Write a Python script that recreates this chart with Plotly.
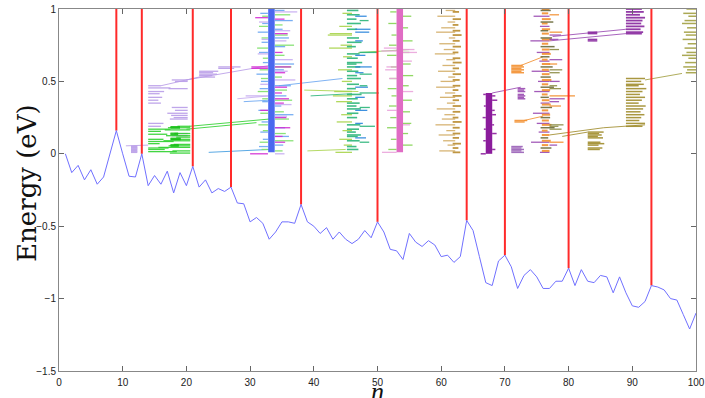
import plotly.graph_objects as go

# ---------------- data ----------------
n_vals = list(range(1, 101))
energy = [0.0, -0.13, -0.08, -0.18, -0.11, -0.21, -0.16, 0.0, 0.16, 0.0,
          -0.155, -0.16, 0.0, -0.22, -0.15, -0.21, -0.12, -0.27, -0.13, -0.22,
          -0.087, -0.23, -0.18, -0.27, -0.24, -0.26, -0.23, -0.34, -0.345, -0.47,
          -0.44, -0.48, -0.59, -0.54, -0.47, -0.47, -0.48, -0.35, -0.47, -0.50,
          -0.55, -0.51, -0.59, -0.54, -0.59, -0.62, -0.59, -0.53, -0.58, -0.47,
          -0.54, -0.66, -0.67, -0.73, -0.55, -0.61, -0.64, -0.60, -0.63, -0.71,
          -0.70, -0.75, -0.71, -0.46, -0.53, -0.71, -0.89, -0.91, -0.74, -0.70,
          -0.78, -0.93, -0.84, -0.80, -0.85, -0.93, -0.93, -0.88, -0.88, -0.79,
          -0.91, -0.80, -0.88, -0.89, -0.84, -0.85, -0.96, -0.85, -0.96, -1.05,
          -1.06, -1.02, -0.91, -0.92, -0.94, -1.00, -1.01, -1.11, -1.21, -1.10]
defect_n = [9, 13, 21, 27, 38, 50, 64, 70, 80, 93]

x_ticks = [0, 10, 20, 30, 40, 50, 60, 70, 80, 90, 100]
y_ticks = [-1.5, -1, -0.5, 0, 0.5, 1]
y_tick_text = ["\u22121.5", "\u22121", "\u22120.5", "0", "0.5", "1"]

# solid state columns
col_n = [33.35, 53.5, 67.5]
col_E0 = [0.01, 0.01, 0.0]
col_E1 = [1.0, 1.0, 0.42]
col_color = ["#4a68ef", "#e06cc4", "#8b1c9c"]

# level dashes: anchor n, energies, dash lengths (positive = to the right, negative = to the left)
lav_block_a = 11.3; lav_block_E = [0.012, 0.022, 0.032, 0.042, 0.05]; lav_block_L = [1.0, 1.0, 1.0, 1.0, 1.0]
lav_left_a = 14.0; lav_left_E = [0.47, 0.455, 0.43, 0.415, 0.39, 0.37, 0.35, 0.21, 0.19]
lav_left_L = [2.0, 3.5, 2.5, 1.8, 2.2, 1.6, 2.0, 2.4, 2.0]
lav_right_a = 20.2; lav_right_E = [0.51, 0.5, 0.45, 0.32, 0.3, 0.28, 0.265, 0.25, 0.24, 0.14, 0.125]
lav_right_L = [-2.5, -2.0, -3.0, -2.5, -2.0, -3.2, -2.6, -2.2, -2.8, -2.0, -2.5]
lav_up_a = 22.0; lav_up_E = [0.57, 0.56, 0.55, 0.54, 0.53]; lav_up_L = [3.0, 2.2, 2.8, 2.0, 2.5]
lav_top_a = 25.0; lav_top_E = [0.6, 0.59]; lav_top_L = [3.5, 2.5]
grn_left_a = 14.0; grn_left_E = [0.17, 0.155, 0.135, 0.1, 0.085, 0.07, 0.04, 0.03, 0.015]
grn_left_L = [3.5, 2.0, 3.0, 2.4, 4.0, 1.8, 3.2, 2.6, 4.5]
grn_right_a = 20.6; grn_right_E = [0.19, 0.18, 0.165, 0.14, 0.125, 0.115, 0.1, 0.09, 0.065, 0.055, 0.045, 0.02, 0.005]
grn_right_L = [-2.0, -3.5, -4.0, -2.5, -3.8, -2.2, -3.0, -4.2, -2.6, -3.4, -5.0, -2.8, -3.2]
grn_dark_a = 17.5; grn_dark_E = [0.185, 0.18, 0.14, 0.135, 0.105, 0.1, 0.06, 0.055]
grn_dark_L = [1.5, 1.5, 1.2, 1.2, 1.6, 1.6, 1.3, 1.3]

b_lb_r_a = 33.9; b_lb_r_E = [0.99, 0.92, 0.86, 0.8, 0.74, 0.62, 0.58, 0.47, 0.4, 0.33, 0.27, 0.18, 0.12, 0.06]
b_lb_r_L = [1.5, 2.8, 1.2, 2.2, 1.6, 3.0, 1.4, 2.5, 1.8, 1.0, 2.9, 1.6, 2.2, 1.3]
b_gr_r_a = 33.9; b_gr_r_E = [0.96, 0.89, 0.82, 0.75, 0.68, 0.6, 0.53, 0.44, 0.37, 0.29, 0.24, 0.14, 0.09, 0.02]
b_gr_r_L = [2.4, 1.2, 2.0, 3.0, 1.5, 2.6, 1.1, 1.9, 2.7, 1.4, 2.2, 1.7, 2.9, 1.2]
b_mg_r_a = 33.9; b_mg_r_E = [0.93, 0.83, 0.7, 0.6, 0.56, 0.46, 0.42, 0.38, 0.35, 0.25, 0.18, 0.12, 0.08]
b_mg_r_L = [1.5, 2.0, 1.2, 2.5, 1.6, 1.9, 1.1, 2.2, 1.4, 1.8, 2.4, 1.2, 1.6]
b_lv_r_a = 33.9; b_lv_r_E = [0.98, 0.85, 0.78, 0.65, 0.57, 0.51, 0.34, 0.26, 0.0]
b_lv_r_L = [3.5, 2.4, 1.8, 2.8, 2.0, 3.2, 2.6, 1.9, 1.5]
b_lb_l_a = 32.8; b_lb_l_E = [0.97, 0.9, 0.84, 0.77, 0.7, 0.63, 0.55, 0.5, 0.45, 0.36, 0.3, 0.22, 0.15, 0.1, 0.05]
b_lb_l_L = [-1.2, -0.9, -1.6, -1.0, -1.4, -0.8, -1.8, -1.1, -1.3, -0.9, -1.5, -1.0, -1.2, -0.8, -1.4]
b_gr_l_a = 32.8; b_gr_l_E = [0.95, 0.88, 0.8, 0.73, 0.66, 0.58, 0.52, 0.43, 0.38, 0.28, 0.2, 0.16, 0.08, 0.03]
b_gr_l_L = [-0.9, -1.4, -1.0, -1.7, -0.8, -1.3, -1.1, -1.6, -0.9, -1.2, -1.5, -0.8, -1.3, -1.0]
b_mg_l_a = 32.8; b_mg_l_E = [0.94, 0.6, 0.59, 0.3, 0.0]; b_mg_l_L = [-2.0, -2.6, -2.6, -1.2, -2.8]
b_lv_l_a = 32.8; b_lv_l_E = [0.91, 0.79, 0.69, 0.48, 0.4]; b_lv_l_L = [-1.4, -1.0, -1.6, -1.2, -3.5]

t_main_a = 45.2
t_main_E = [0.99, 0.96, 0.93, 0.9, 0.86, 0.8, 0.77, 0.74, 0.69, 0.66, 0.63, 0.62, 0.6, 0.57, 0.54, 0.52, 0.48,
            0.45, 0.41, 0.38, 0.35, 0.33, 0.31, 0.28, 0.25, 0.2, 0.17, 0.15, 0.13, 0.12, 0.09, 0.05, 0.03]
t_main_L = [1.8, 2.0, 1.5, 2.2, 1.6, 1.9, 2.3, 1.4, 2.0, 1.7, 2.4, 1.5, 2.1, 1.8, 1.6, 2.2, 1.9,
            1.4, 2.3, 1.7, 2.0, 1.5, 2.2, 1.8, 1.6, 2.1, 1.9, 1.4, 2.2, 1.7, 2.0, 1.5, 1.8]
t_lime_a = 46.0
t_lime_E = [0.97, 0.88, 0.83, 0.82, 0.75, 0.73, 0.67, 0.58, 0.5, 0.43, 0.4, 0.36, 0.27, 0.22, 0.16, 0.1, 0.06, 0.01]
t_lime_L = [-1.5, -2.0, -3.5, -3.8, -1.8, -3.6, -1.4, -2.2, -1.6, -2.8, -3.0, -2.5, -1.7, -2.4, -1.5, -2.0, -1.3, -2.6]
t_blue_a = 46.5; t_blue_E = [0.95, 0.86, 0.84, 0.78, 0.68, 0.6, 0.56, 0.46, 0.39, 0.3, 0.21, 0.11]
t_blue_L = [1.8, 2.4, 2.2, 1.2, 1.6, 2.6, 1.3, 2.0, 1.5, 1.9, 1.2, 1.7]
t_right_a = 47.2; t_right_E = [0.92, 0.7, 0.55, 0.47, 0.42, 0.32, 0.19, 0.08]
t_right_L = [1.4, 2.8, 1.9, 1.2, 3.0, 1.6, 2.4, 1.5]

p_gr_l_a = 53.0; p_gr_l_E = [0.98, 0.9, 0.82, 0.75, 0.68, 0.6, 0.52, 0.45, 0.4, 0.33, 0.25, 0.18, 0.1, 0.03]
p_gr_l_L = [-1.0, -1.3, -0.8, -1.2, -1.5, -0.9, -1.1, -1.4, -0.8, -1.2, -1.0, -1.5, -0.9, -1.3]
p_gr_r_a = 54.0; p_gr_r_E = [0.95, 0.87, 0.78, 0.7, 0.62, 0.54, 0.47, 0.37, 0.29, 0.21, 0.14, 0.06]
p_gr_r_L = [1.3, 0.8, 1.5, 1.0, 1.2, 1.6, 0.9, 1.4, 1.1, 1.3, 0.8, 1.5]
p_pk_l_a = 53.0; p_pk_l_E = [0.73, 0.71, 0.6, 0.58, 0.52, 0.3, 0.01]; p_pk_l_L = [-2.0, -2.4, -1.6, -1.8, -1.2, -1.5, -2.3]
p_pk_r_a = 54.0; p_pk_r_E = [0.72, 0.7, 0.64, 0.43, 0.2]; p_pk_r_L = [1.8, 2.2, 1.4, 1.6, 1.1]

tan_l_a = 62.2
tan_l_E = [0.99, 0.95, 0.91, 0.87, 0.84, 0.8, 0.76, 0.72, 0.69, 0.65, 0.61, 0.57, 0.53, 0.5,
           0.46, 0.42, 0.39, 0.35, 0.31, 0.27, 0.24, 0.2, 0.16, 0.13, 0.09, 0.06, 0.02]
tan_l_L = [-1.5, -2.8, -1.2, -2.2, -3.0, -1.0, -2.5, -1.8, -3.2, -1.4, -2.0, -2.7, -1.1, -2.3,
           -3.0, -1.6, -2.4, -1.3, -2.9, -1.7, -2.1, -3.1, -1.4, -2.6, -1.9, -1.2, -2.5]
tan_r_a = 61.8
tan_r_E = [0.98, 0.93, 0.89, 0.85, 0.82, 0.78, 0.74, 0.7, 0.66, 0.63, 0.59, 0.55, 0.51, 0.47,
           0.44, 0.4, 0.37, 0.33, 0.29, 0.25, 0.22, 0.18, 0.14, 0.11, 0.07, 0.04, 0.01]
tan_r_L = [1.0, 1.3, 0.9, 1.2, 1.4, 1.1, 1.3, 0.9, 1.2, 1.4, 1.0, 1.3, 1.1, 1.2,
           0.9, 1.4, 1.0, 1.3, 1.2, 0.9, 1.4, 1.1, 1.2, 1.0, 1.3, 0.9, 1.2]

pu_l_a = 67.0; pu_l_E = [0.41, 0.33, 0.25, 0.17, 0.09, 0.0]; pu_l_L = [-0.4, -0.3, -0.5, -0.3, -0.4, -0.8]
pu_r_a = 68.0; pu_r_E = [0.4, 0.37, 0.3, 0.27, 0.2, 0.14, 0.03]; pu_r_L = [0.5, 0.8, 0.4, 0.6, 0.3, 0.7, 0.5]

o_main_a = 75.8
o_main_E = [1.0, 0.97, 0.93, 0.9, 0.86, 0.83, 0.79, 0.76, 0.72, 0.69, 0.65, 0.62, 0.58, 0.55,
            0.51, 0.48, 0.44, 0.41, 0.37, 0.34, 0.3, 0.27, 0.23, 0.2, 0.16, 0.13, 0.09, 0.06, 0.02]
o_main_L = [1.2, 1.0, 1.4, 0.9, 1.3, 1.1, 1.5, 1.0, 1.2, 1.4, 0.9, 1.3, 1.1, 1.2,
            1.5, 1.0, 1.3, 0.9, 1.2, 1.4, 1.0, 1.3, 1.1, 1.5, 0.9, 1.2, 1.4, 1.0, 1.2]
o_dol_a = 75.6; o_dol_E = [0.99, 0.91, 0.85, 0.8, 0.74, 0.67, 0.6, 0.53, 0.46, 0.39, 0.32, 0.25, 0.18, 0.11, 0.04]
o_dol_L = [1.6, 2.0, 1.2, 1.8, 2.2, 1.4, 1.9, 1.6, 2.1, 1.3, 1.8, 1.5, 2.2, 1.2, 1.7]
o_pur_a = 77.0; o_pur_E = [0.95, 0.88, 0.78, 0.7, 0.64, 0.57, 0.5, 0.43, 0.35, 0.28, 0.21, 0.15, 0.08, 0.01]
o_pur_L = [-2.5, -1.5, -3.0, -2.0, -1.6, -2.8, -1.8, -2.4, -1.4, -2.6, -2.0, -1.7, -2.9, -1.5]
o_org_r_a = 77.0; o_org_r_E = [0.96, 0.84, 0.62, 0.4, 0.33, 0.08]; o_org_r_L = [1.5, 2.0, 1.2, 4.0, 1.8, 2.2]
o_olv_r_a = 77.0; o_olv_r_E = [0.72, 0.58, 0.56, 0.47, 0.45, 0.2, 0.19, 0.17]
o_olv_r_L = [1.5, 2.0, 1.6, 1.2, 1.8, 2.2, 1.4, 1.9]
o_pur_r_a = 77.0; o_pur_r_E = [0.82, 0.79, 0.65, 0.5, 0.38, 0.36, 0.06]; o_pur_r_L = [1.8, 1.4, 2.0, 1.6, 2.4, 1.5, 1.2]
o_blk_a = 71.0; o_blk_E = [0.56, 0.57, 0.58, 0.59, 0.6, 0.61]; o_blk_L = [2.0, 1.6, 2.0, 1.6, 2.0, 1.8]
o_low_a = 71.5; o_low_E = [0.23, 0.22]; o_low_L = [2.0, 1.6]
pb_mid_a = 72.0; pb_mid_E = [0.38, 0.39, 0.4, 0.41, 0.43, 0.44, 0.45]; pb_mid_L = [1.2, 1.0, 1.2, 1.0, 1.2, 1.0, 1.2]
pb_low_a = 71.0; pb_low_E = [0.01, 0.02, 0.03, 0.04, 0.05]; pb_low_L = [2.0, 1.6, 2.0, 1.6, 1.8]

ol_low_a = 83.0; ol_low_E = [0.15, 0.14, 0.13, 0.12, 0.11, 0.08, 0.07, 0.06, 0.04, 0.03]
ol_low_L = [2.5, 1.8, 2.2, 1.6, 2.4, 2.0, 2.6, 1.7, 2.3, 1.9]
ol_up_a = 89.0; ol_up_E = [0.52, 0.5, 0.48, 0.47, 0.45, 0.43, 0.41, 0.39, 0.37, 0.35, 0.33, 0.31, 0.29,
                           0.27, 0.25, 0.23, 0.21, 0.19]
ol_up_L = [3.0, 2.4, 2.8, 2.0, 3.2, 2.6, 2.2, 3.0, 2.5, 2.0, 3.1, 2.7, 2.3, 2.9, 2.4, 2.1, 3.0, 2.6]
ol_r_a = 100.0; ol_r_E = [1.0, 0.97, 0.95, 0.92, 0.9, 0.87, 0.84, 0.82, 0.79, 0.76, 0.73, 0.7, 0.68,
                          0.66, 0.63, 0.6, 0.58, 0.56]
ol_r_L = [-1.5, -2.0, -1.2, -1.8, -2.2, -1.4, -1.9, -1.6, -2.1, -1.3, -1.8, -1.5, -2.2, -1.2, -1.7, -2.0, -1.4, -1.6]
pt_a = 89.0; pt_E = [1.0, 0.98, 0.96, 0.94, 0.92, 0.9, 0.88, 0.86, 0.84, 0.83]
pt_L = [2.5, 2.8, 2.2, 3.0, 2.6, 2.4, 2.9, 2.3, 2.7, 2.5]
pt_mid_a = 83.0; pt_mid_E = [0.84, 0.83, 0.79, 0.78]; pt_mid_L = [1.5, 1.5, 1.5, 1.5]

# connecting (slanted) level lines
link_n0 = [10.5, 16.0, 20.0, 20.5, 20.0, 23.5, 29.0, 28.0, 34.5, 39.0, 38.5, 39.5, 47.0, 68.0, 72.5, 73.0,
           77.0, 77.5, 77.0, 79.0, 85.5, 92.0]
link_E0 = [0.055, 0.47, 0.51, 0.19, 0.17, 0.01, 0.36, 0.38, 0.47, 0.02, 0.44, 0.40, 0.70, 0.42, 0.61, 0.23,
           0.78, 0.81, 0.13, 0.12, 0.18, 0.51]
link_n1 = [14.0, 22.0, 33.0, 33.0, 31.0, 33.0, 33.0, 33.0, 44.5, 45.0, 47.0, 46.0, 55.0, 72.5, 76.0, 76.0,
           89.0, 89.0, 85.5, 83.0, 92.0, 97.8]
link_E1 = [0.06, 0.53, 0.61, 0.24, 0.215, 0.03, 0.37, 0.40, 0.52, 0.03, 0.43, 0.415, 0.72, 0.46, 0.67, 0.26,
           0.83, 0.86, 0.18, 0.15, 0.20, 0.555]
link_color = ["#b99de8", "#b99de8", "#b99de8", "#2ed12e", "#2ed12e", "#3f9be0", "#6aa6f2", "#c7adf2",
              "#6aa6f2", "#a9d44c", "#a9d44c", "#2bb57a", "#86d454", "#9a4ab2", "#f39030", "#f39030",
              "#9a4ab2", "#9a4ab2", "#a08c2c", "#a08c2c", "#a08c2c", "#a3a042"]

# ---------------- figure ----------------
groups = [
    (lav_block_a, lav_block_E, lav_block_L, "#b99de8", 2.0),
    (lav_left_a, lav_left_E, lav_left_L, "#b99de8", 1.3),
    (lav_right_a, lav_right_E, lav_right_L, "#b99de8", 1.3),
    (lav_up_a, lav_up_E, lav_up_L, "#b99de8", 1.3),
    (lav_top_a, lav_top_E, lav_top_L, "#b99de8", 1.3),
    (grn_left_a, grn_left_E, grn_left_L, "#2ed12e", 1.3),
    (grn_right_a, grn_right_E, grn_right_L, "#2ed12e", 1.3),
    (grn_dark_a, grn_dark_E, grn_dark_L, "#18c018", 2.0),
    (b_lb_l_a, b_lb_l_E, b_lb_l_L, "#6aa6f2", 1.3), (b_lb_r_a, b_lb_r_E, b_lb_r_L, "#6aa6f2", 1.3),
    (b_gr_l_a, b_gr_l_E, b_gr_l_L, "#7ee06a", 1.3), (b_gr_r_a, b_gr_r_E, b_gr_r_L, "#7ee06a", 1.3),
    (b_mg_r_a, b_mg_r_E, b_mg_r_L, "#d42ad4", 1.3), (b_mg_l_a, b_mg_l_E, b_mg_l_L, "#d42ad4", 1.3),
    (b_lv_r_a, b_lv_r_E, b_lv_r_L, "#c7adf2", 1.3), (b_lv_l_a, b_lv_l_E, b_lv_l_L, "#c7adf2", 1.3),
    (t_lime_a, t_lime_E, t_lime_L, "#a9d44c", 1.3),
    (t_main_a, t_main_E, t_main_L, "#2bb57a", 1.6),
    (t_blue_a, t_blue_E, t_blue_L, "#2a86dc", 1.3),
    (t_right_a, t_right_E, t_right_L, "#2bb57a", 1.3),
    (p_gr_l_a, p_gr_l_E, p_gr_l_L, "#86d454", 1.3), (p_gr_r_a, p_gr_r_E, p_gr_r_L, "#86d454", 1.3),
    (p_pk_l_a, p_pk_l_E, p_pk_l_L, "#eaa6dc", 1.3), (p_pk_r_a, p_pk_r_E, p_pk_r_L, "#eaa6dc", 1.3),
    (tan_l_a, tan_l_E, tan_l_L, "#d3ad66", 1.3), (tan_r_a, tan_r_E, tan_r_L, "#b98b2e", 1.8),
    (pu_l_a, pu_l_E, pu_l_L, "#8b1c9c", 1.5), (pu_r_a, pu_r_E, pu_r_L, "#8b1c9c", 1.5),
    (o_pur_a, o_pur_E, o_pur_L, "#9a4ab2", 1.3),
    (o_main_a, o_main_E, o_main_L, "#f39030", 2.0),
    (o_dol_a, o_dol_E, o_dol_L, "#6b6a3a", 1.5),
    (o_org_r_a, o_org_r_E, o_org_r_L, "#f39030", 1.3),
    (o_olv_r_a, o_olv_r_E, o_olv_r_L, "#8a8a40", 1.3),
    (o_pur_r_a, o_pur_r_E, o_pur_r_L, "#9a4ab2", 1.3),
    (o_blk_a, o_blk_E, o_blk_L, "#f39030", 1.5), (o_low_a, o_low_E, o_low_L, "#f39030", 1.5),
    (pb_mid_a, pb_mid_E, pb_mid_L, "#9a4ab2", 1.5), (pb_low_a, pb_low_E, pb_low_L, "#9a60b8", 1.5),
    (ol_low_a, ol_low_E, ol_low_L, "#a08c2c", 1.5), (ol_up_a, ol_up_E, ol_up_L, "#a08c2c", 1.5),
    (ol_r_a, ol_r_E, ol_r_L, "#a3a042", 1.5),
    (pt_a, pt_E, pt_L, "#88279e", 1.8), (pt_mid_a, pt_mid_E, pt_mid_L, "#88279e", 1.5),
]

fig = go.Figure()

# slanted links
for a, b, c, d, col in zip(link_n0, link_E0, link_n1, link_E1, link_color):
    fig.add_trace(go.Scatter(x=[a, c], y=[b, d], mode="lines",
                             line=dict(color=col, width=1.0), opacity=0.85,
                             hoverinfo="skip", showlegend=False))

# level dashes
for anchor, levels, lengths, col, w in groups:
    xs, ys = [], []
    for e, ln in zip(levels, lengths):
        xs += [anchor, anchor + ln, None]
        ys += [e, e, None]
    fig.add_trace(go.Scatter(x=xs, y=ys, mode="lines", line=dict(color=col, width=w),
                             opacity=0.9, hoverinfo="skip", showlegend=False))

# solid columns
for cn, e0, e1, col in zip(col_n, col_E0, col_E1, col_color):
    fig.add_trace(go.Scatter(x=[cn, cn], y=[e0, e1], mode="lines",
                             line=dict(color=col, width=6.5), hoverinfo="skip", showlegend=False))

# red defect lines
rx, ry = [], []
for dn in defect_n:
    rx += [dn, dn, None]
    ry += [energy[n_vals.index(dn)], 1.0, None]
fig.add_trace(go.Scatter(x=rx, y=ry, mode="lines", line=dict(color="#ff2a2a", width=2),
                         showlegend=False))

# blue energy curve
fig.add_trace(go.Scatter(x=n_vals, y=energy, mode="lines", line=dict(color="#7070ff", width=1),
                         showlegend=False))

axis_common = dict(showgrid=False, zeroline=False, ticks="inside", ticklen=5, tickcolor="#666",
                   showline=True, linecolor="#888", linewidth=1, mirror="ticks", automargin=False,
                   tickfont=dict(family="Liberation Sans, Arial", size=10, color="#222"))

fig.update_layout(
    width=705, height=398,
    margin=dict(l=59, r=9, t=9, b=27),
    paper_bgcolor="white", plot_bgcolor="white",
    xaxis=dict(range=[0, 100], tickvals=x_ticks, ticklabelstandoff=2, **axis_common),
    yaxis=dict(range=[-1.5, 1], tickvals=y_ticks, ticktext=y_tick_text, **axis_common),
    annotations=[
        dict(text="Energy (eV)", xref="paper", yref="paper", x=-0.05, y=0.52,
             textangle=-90, showarrow=False, xanchor="center", yanchor="middle",
             font=dict(family="DejaVu Serif", size=26, color="#111")),
        dict(text="<i>n</i>", xref="paper", yref="paper", x=0.5, y=-0.056,
             showarrow=False, xanchor="center", yanchor="middle",
             font=dict(family="Liberation Serif", size=26, color="#111")),
    ],
)

fig.write_html("out.html")
